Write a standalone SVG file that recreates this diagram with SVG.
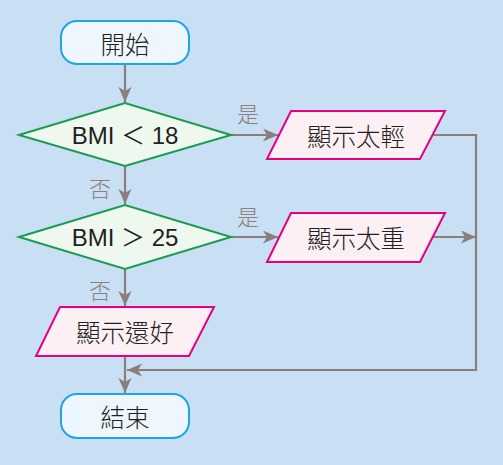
<svg xmlns="http://www.w3.org/2000/svg" width="503" height="465" viewBox="0 0 503 465">
<style>
.term{fill:#eef7fe;stroke:#1aa7e6;stroke-width:2}
.dec{fill:#eef8ee;stroke:#1a9c50;stroke-width:2}
.io{fill:#fdf0f5;stroke:#e6007e;stroke-width:2}
.t{font-family:"Noto Sans CJK TC","Liberation Sans",sans-serif;font-size:24.5px;font-weight:300;fill:#231f20;text-anchor:middle;dominant-baseline:central}
.b{font-family:"Liberation Sans","Noto Sans CJK TC",sans-serif;font-size:24px;fill:#231f20;text-anchor:middle;dominant-baseline:central}
.lbl{font-family:"Noto Sans CJK TC",sans-serif;font-size:22px;font-weight:300;fill:#8a8080;text-anchor:middle;dominant-baseline:central}
.c{fill:none;stroke:#8a7f7d;stroke-width:2.2}
</style>
<defs>
<marker id="ah" markerWidth="16" markerHeight="14" refX="15" refY="6.5" orient="auto" markerUnits="userSpaceOnUse">
<path d="M0,0 L15,6.5 L0,13 L4,6.5 Z" fill="#8a7f7d"/>
</marker>
</defs>
<rect width="503" height="465" fill="#c8dff4"/>
<g id="connectors">
<line class="c" x1="125" y1="64" x2="125" y2="102" marker-end="url(#ah)"/>
<line class="c" x1="125" y1="166" x2="125" y2="204" marker-end="url(#ah)"/>
<line class="c" x1="125" y1="269" x2="125" y2="306" marker-end="url(#ah)"/>
<line class="c" x1="125" y1="356" x2="125" y2="393" marker-end="url(#ah)"/>
<line class="c" x1="231" y1="135" x2="278" y2="135" marker-end="url(#ah)"/>
<line class="c" x1="231" y1="237" x2="278" y2="237" marker-end="url(#ah)"/>
<polyline class="c" points="432,135 476,135 476,370 127,370" marker-end="url(#ah)"/>
<line class="c" x1="432" y1="237" x2="476" y2="237" stroke-width="3" marker-end="url(#ah)"/>
<text class="lbl" x="248" y="112">是</text>
<text class="lbl" x="248" y="215">是</text>
<text class="lbl" x="100" y="187">否</text>
<text class="lbl" x="100" y="289">否</text>
</g>
<g id="start">
<rect class="term" x="61" y="21" width="128" height="43" rx="16"/>
<text class="t" x="125" y="43">開始</text>
</g>
<g id="cond1">
<polygon class="dec" points="19,135 125,103 231,135 125,166"/>
<text class="b" x="125" y="135">BMI ＜ 18</text>
</g>
<g id="cond2">
<polygon class="dec" points="19,237 125,205 231,237 125,269"/>
<text class="b" x="125" y="237">BMI ＞ 25</text>
</g>
<g id="light">
<polygon class="io" points="291,111 445,111 420,159 267,159"/>
<text class="t" x="356" y="135">顯示太輕</text>
</g>
<g id="heavy">
<polygon class="io" points="291,213 445,213 420,262 267,262"/>
<text class="t" x="356" y="237">顯示太重</text>
</g>
<g id="ok">
<polygon class="io" points="60,307 214,307 189,356 36,356"/>
<text class="t" x="125" y="331">顯示還好</text>
</g>
<g id="end">
<rect class="term" x="61" y="394" width="128" height="44" rx="16"/>
<text class="t" x="125" y="416">結束</text>
</g>
</svg>
